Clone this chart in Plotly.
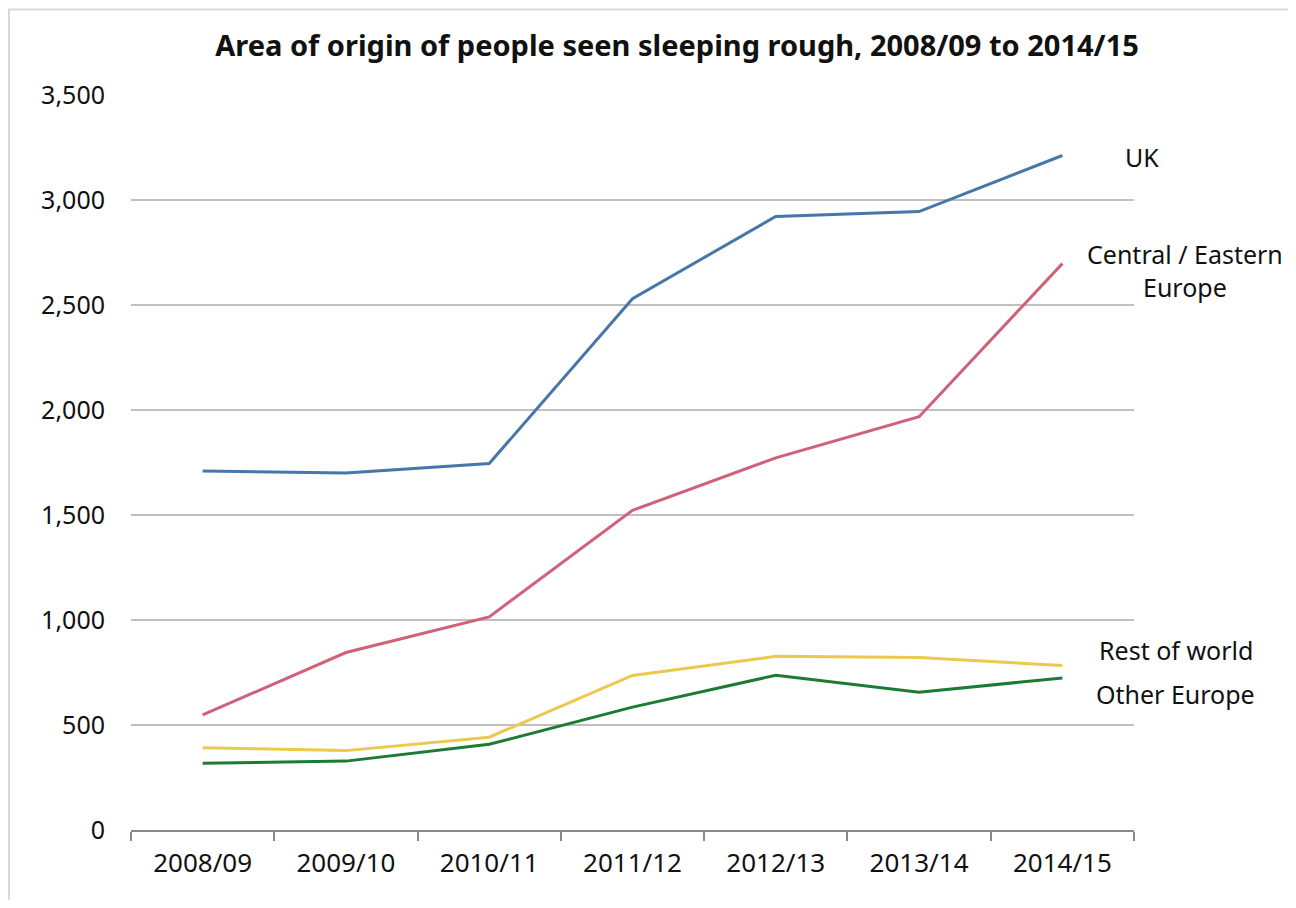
import plotly.graph_objects as go

years = ["2008/09", "2009/10", "2010/11", "2011/12", "2012/13", "2013/14", "2014/15"]
uk = [1710, 1700, 1745, 2530, 2922, 2945, 3212]
cee = [548, 845, 1015, 1522, 1772, 1968, 2697]
row = [392, 378, 442, 736, 827, 822, 783]
oe = [318, 328, 408, 585, 737, 656, 724]

series = [
    ("UK", uk, "#4677a9"),
    ("Central / Eastern Europe", cee, "#cf6179"),
    ("Rest of world", row, "#ebc94f"),
    ("Other Europe", oe, "#1b7b35"),
]

FONT = "Noto Sans"
OFF = 8  # page body margin
W, H = 1288, 892
X0, Y0 = 131, 830  # screen position of plot origin
L, R, T, B = X0 - OFF, 162, 95 - OFF, OFF + H - Y0
PW, PH = W - L - R, H - T - B

def px(x):
    return (x - X0) / PW

def py(y):
    return (Y0 - y) / PH

fig = go.Figure()
for name, vals, col in series:
    fig.add_trace(go.Scatter(x=years, y=vals, mode="lines", name=name,
                             line=dict(color=col, width=3)))

labels = [
    ("UK", 1142, 157),
    ("Central / Eastern<br>Europe", 1185, 270),
    ("Rest of world", 1176, 650),
    ("Other Europe", 1175, 694),
]
for text, x, y in labels:
    fig.add_annotation(text=text, x=px(x), y=py(y), xref="paper", yref="paper",
                       showarrow=False, xanchor="center", yanchor="middle",
                       font=dict(family=FONT, size=25, color="#111111"))

fig.add_shape(type="rect", xref="paper", yref="paper",
              x0=px(9), x1=px(1294), y0=py(9.5), y1=py(950),
              line=dict(color="#d9d9d9", width=2), fillcolor="rgba(0,0,0,0)",
              layer="below")

fig.update_layout(
    width=W, height=H,
    margin=dict(l=L, r=R, t=T, b=B),
    paper_bgcolor="white", plot_bgcolor="white",
    showlegend=False,
    title=dict(text="<b>Area of origin of people seen sleeping rough, 2008/09 to 2014/15</b>",
               x=px(652), xanchor="center", y=1 - (46 - OFF) / H, yanchor="middle",
               font=dict(family=FONT, size=29, color="#111111")),
    font=dict(family=FONT, size=25, color="#111111"),
)
fig.update_xaxes(type="category", tickson="boundaries", ticks="outside", ticklen=9,
                 tickcolor="#888888", tickwidth=2, showline=True, linecolor="#888888",
                 linewidth=2, showgrid=False, range=[-0.5, 6.5], ticklabelstandoff=9,
                 tickfont=dict(family=FONT, size=26, color="#111111"))
fig.update_yaxes(range=[0, 3500], dtick=500, tickformat=",", showgrid=True,
                 gridcolor="#c0c0c0", gridwidth=1.5, zeroline=False, showline=False,
                 ticks="", ticklabelstandoff=25,
                 tickfont=dict(family=FONT, size=25, color="#111111"))

fig.write_html("out.html")
